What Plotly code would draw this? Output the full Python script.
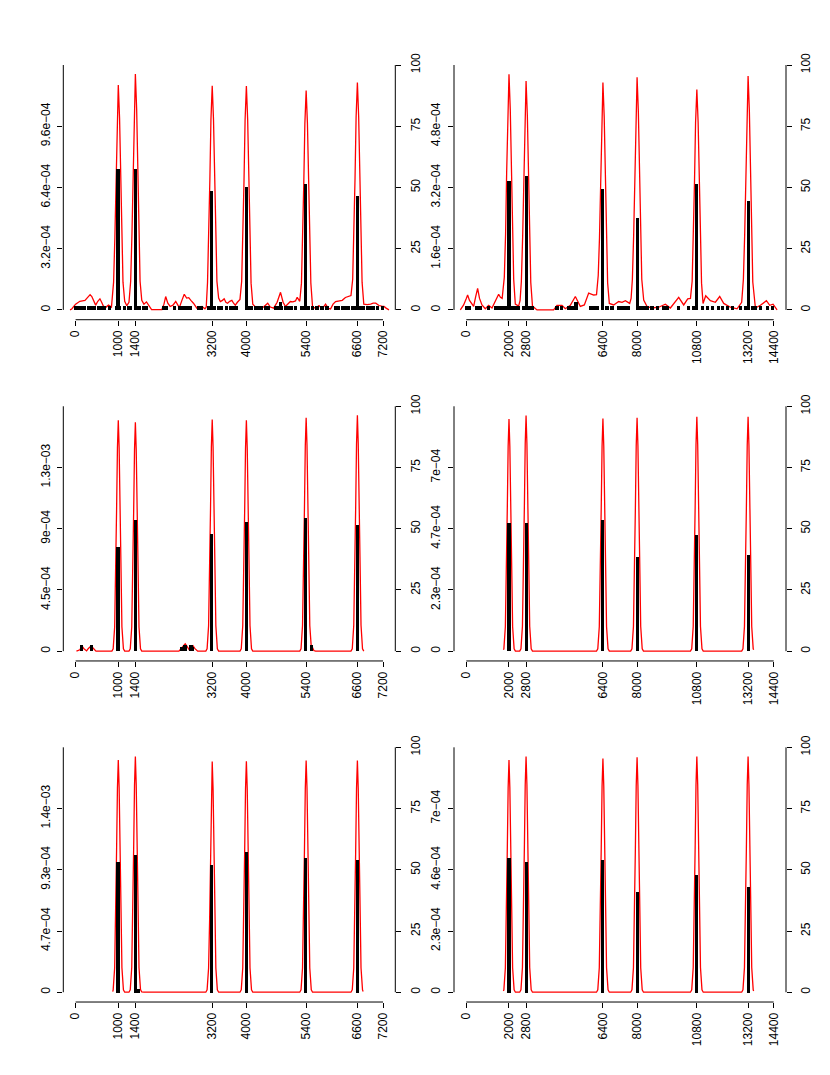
import plotly.graph_objects as go

# x-axis tick marks for the two columns
ticks_a = [0, 1000, 1400, 3200, 4000, 5400, 6600, 7200]
ticks_b = [0, 2000, 2800, 6400, 8000, 10800, 13200, 14400]
right_ticks = [0, 25, 50, 75, 100]

# top of the density axis (x 1e-4) and its labels
p1_top, p1_lab = 12.8, ["0", "3.2e\u221204", "6.4e\u221204", "9.6e\u221204"]
p2_top, p2_lab = 6.4, ["0", "1.6e\u221204", "3.2e\u221204", "4.8e\u221204"]
p3_top, p3_lab = 17.88, ["0", "4.5e\u221204", "9e\u221204", "1.3e\u221203"]
p4_top, p4_lab = 9.36, ["0", "2.3e\u221204", "4.7e\u221204", "7e\u221204"]
p5_top, p5_lab = 18.64, ["0", "4.7e\u221204", "9.3e\u221204", "1.4e\u221203"]
p6_top, p6_lab = 9.28, ["0", "2.3e\u221204", "4.6e\u221204", "7e\u221204"]

# red density curves: (x, density x 1e-4)
p1_curve = [
    (-130, 0), (-90, 0.05), (0, 0.3), (100, 0.45), (220, 0.5), (300, 0.72), (340, 0.8), (380, 0.7),
    (430, 0.4), (470, 0.25), (520, 0.45), (570, 0.58), (610, 0.4), (650, 0.2), (700, 0.12), (770, 0.25),
    (840, 0.15), (890, 1.45), (920, 3.8), (945, 6.85), (970, 10.0), (1000, 11.75), (1030, 10.0),
    (1055, 6.85), (1080, 3.8), (1110, 1.45), (1150, 0.45), (1200, 0.22), (1250, 0.4), (1290, 1.5),
    (1320, 3.95), (1345, 7.15), (1370, 10.5), (1400, 12.33), (1430, 10.5), (1455, 7.15), (1480, 3.95),
    (1510, 1.5), (1550, 0.5), (1600, 0.3), (1660, 0.42), (1720, 0.2), (1780, 0.02), (2020, 0.02),
    (2070, 0.3), (2110, 0.7), (2160, 0.35), (2215, 0.18), (2280, 0.25), (2345, 0.44), (2400, 0.2),
    (2430, 0.12), (2490, 0.5), (2545, 0.82), (2600, 0.62), (2650, 0.64), (2700, 0.5), (2760, 0.35),
    (2840, 0.09), (2900, 0.12), (2960, 0.18), (3030, 0.06), (3060, 0.15), (3090, 1.45), (3120, 3.75),
    (3145, 6.8), (3170, 9.95), (3200, 11.72), (3230, 9.95), (3255, 6.8), (3280, 3.75), (3310, 1.5),
    (3350, 0.62), (3390, 0.44), (3440, 0.5), (3480, 0.58), (3520, 0.4), (3560, 0.35), (3610, 0.45),
    (3660, 0.5), (3700, 0.35), (3740, 0.25), (3790, 0.4), (3850, 0.55), (3890, 1.5), (3920, 3.75),
    (3945, 6.8), (3970, 9.95), (4000, 11.7), (4030, 9.95), (4055, 6.8), (4080, 3.75), (4110, 1.4),
    (4150, 0.3), (4200, 0.18), (4290, 0.09), (4400, 0.15), (4500, 0.35), (4560, 0.15), (4640, 0.09),
    (4720, 0.4), (4800, 0.92), (4860, 0.4), (4915, 0.18), (4980, 0.35), (5030, 0.44), (5090, 0.42),
    (5150, 0.47), (5190, 0.66), (5250, 0.45), (5290, 1.4), (5320, 3.65), (5345, 6.65), (5370, 9.75),
    (5400, 11.46), (5430, 9.75), (5455, 6.65), (5480, 3.65), (5510, 1.4), (5550, 0.15), (5620, 0.09),
    (5700, 0.23), (5776, 0.05), (5854, 0.3), (5920, 0.08), (5971, 0.05), (6030, 0.3), (6090, 0.44),
    (6170, 0.48), (6245, 0.5), (6320, 0.65), (6400, 0.72), (6450, 0.75), (6490, 1.6), (6520, 3.8),
    (6545, 6.9), (6570, 10.1), (6600, 11.89), (6630, 10.1), (6655, 6.9), (6680, 3.8), (6710, 1.45),
    (6750, 0.3), (6830, 0.28), (6910, 0.3), (6970, 0.35), (7030, 0.35), (7106, 0.23), (7170, 0.2),
    (7223, 0.18), (7280, 0.08), (7340, 0),
]
p2_curve = [
    (-280, 0), (-125, 0.13), (0, 0.3), (62, 0.39), (150, 0.25), (266, 0.13), (344, 0.09), (440, 0.35),
    (531, 0.56), (620, 0.3), (734, 0.13), (890, 0.03), (1047, 0.12), (1203, 0.05), (1359, 0.22),
    (1515, 0.41), (1600, 0.33), (1680, 0.3), (1780, 0.85), (1840, 1.97), (1890, 3.57), (1940, 5.24),
    (2000, 6.16), (2060, 5.24), (2110, 3.57), (2160, 1.97), (2220, 0.8), (2296, 0.15), (2452, 0.1),
    (2520, 0.25), (2580, 0.75), (2640, 1.91), (2690, 3.47), (2740, 5.08), (2800, 5.98), (2860, 5.08),
    (2910, 3.47), (2960, 1.91), (3020, 0.72), (3100, 0.1), (3311, 0), (4092, 0), (4249, 0.12),
    (4483, 0.12), (4639, 0.03), (4873, 0.12), (5108, 0.35), (5342, 0.09), (5529, 0.13), (5733, 0.44),
    (5967, 0.39), (6100, 0.4), (6180, 0.9), (6240, 1.9), (6290, 3.45), (6340, 5.05), (6400, 5.94),
    (6460, 5.05), (6510, 3.45), (6560, 1.9), (6620, 0.71), (6700, 0.17), (6904, 0.13), (7138, 0.22),
    (7295, 0.2), (7451, 0.24), (7654, 0.17), (7720, 0.3), (7780, 0.8), (7840, 1.95), (7890, 3.53),
    (7940, 5.17), (8000, 6.08), (8060, 5.17), (8110, 3.53), (8160, 1.95), (8220, 0.8), (8310, 0.26),
    (8466, 0.09), (8700, 0.05), (9013, 0.07), (9325, 0.15), (9559, 0.05), (9950, 0.33), (10184, 0.13),
    (10372, 0.29), (10500, 0.3), (10580, 0.75), (10640, 1.84), (10690, 3.34), (10740, 4.9),
    (10800, 5.76), (10860, 4.9), (10910, 3.34), (10960, 1.84), (11020, 0.7), (11090, 0.17),
    (11215, 0.37), (11434, 0.24), (11668, 0.2), (11871, 0.35), (12058, 0.17), (12371, 0.07),
    (12683, 0.03), (12900, 0.2), (12980, 0.8), (13040, 1.96), (13090, 3.54), (13140, 5.19),
    (13200, 6.11), (13260, 5.19), (13310, 3.54), (13360, 1.96), (13420, 0.73), (13543, 0.05),
    (13777, 0.12), (14058, 0.24), (14214, 0.12), (14370, 0.15), (14558, 0),
]
p3_curve = [
    (20, 0), (100, 0.1), (130, 0.28), (157, 0.34), (190, 0.2), (258, 0.02), (300, 0.2), (340, 0.32),
    (376, 0.34), (410, 0.2), (477, 0), (850, 0), (880, 0.17), (915, 1.77), (940, 5.4), (960, 10.28),
    (980, 14.84), (1000, 16.86), (1020, 14.84), (1040, 10.28), (1060, 5.4), (1085, 1.77), (1120, 0.17),
    (1150, 0), (1250, 0), (1280, 0.17), (1315, 1.76), (1340, 5.35), (1360, 10.2), (1380, 14.71),
    (1400, 16.72), (1420, 14.71), (1440, 10.2), (1460, 5.35), (1485, 1.76), (1520, 0.17), (1550, 0),
    (2420, 0), (2480, 0.25), (2540, 0.5), (2567, 0.54), (2610, 0.35), (2661, 0.1), (2710, 0.35),
    (2747, 0.41), (2790, 0.2), (2860, 0), (3050, 0), (3080, 0.17), (3115, 1.86), (3140, 5.41),
    (3160, 10.32), (3180, 14.88), (3200, 16.91), (3220, 14.88), (3240, 10.32), (3260, 5.41),
    (3285, 1.86), (3320, 0.17), (3350, 0), (3850, 0), (3880, 0.17), (3915, 1.85), (3940, 5.4),
    (3960, 10.28), (3980, 14.84), (4000, 16.86), (4020, 14.84), (4040, 10.28), (4060, 5.4),
    (4085, 1.85), (4120, 0.17), (4150, 0), (5250, 0), (5280, 0.17), (5315, 1.87), (5340, 5.45),
    (5360, 10.39), (5380, 15.0), (5400, 17.04), (5420, 15.0), (5440, 10.39), (5460, 5.45),
    (5485, 1.87), (5520, 0.3), (5545, 0.3), (5580, 0.05), (5620, 0), (6450, 0), (6480, 0.17),
    (6515, 1.89), (6540, 5.51), (6560, 10.5), (6580, 15.15), (6600, 17.22), (6620, 15.15),
    (6640, 10.5), (6660, 5.51), (6685, 1.89), (6720, 0.17), (6750, 0),
]
p4_curve = [
    (1740, 0.05), (1760, 0.09), (1830, 0.93), (1880, 2.84), (1920, 5.41), (1960, 7.81), (2000, 8.87),
    (2040, 7.81), (2080, 5.41), (2120, 2.84), (2170, 0.93), (2240, 0.09), (2300, 0), (2500, 0),
    (2560, 0.09), (2630, 0.95), (2680, 2.88), (2720, 5.5), (2760, 7.93), (2800, 9.01), (2840, 7.93),
    (2880, 5.5), (2920, 2.88), (2970, 0.95), (3040, 0.09), (3100, 0), (6100, 0), (6160, 0.09),
    (6230, 0.93), (6280, 2.84), (6320, 5.42), (6360, 7.82), (6400, 8.89), (6440, 7.82), (6480, 5.42),
    (6520, 2.84), (6570, 0.93), (6640, 0.09), (6700, 0), (7700, 0), (7760, 0.09), (7830, 0.94),
    (7880, 2.85), (7920, 5.44), (7960, 7.85), (8000, 8.92), (8040, 7.85), (8080, 5.44), (8120, 2.85),
    (8170, 0.94), (8240, 0.09), (8300, 0), (10500, 0), (10560, 0.09), (10630, 0.94), (10680, 2.87),
    (10720, 5.47), (10760, 7.88), (10800, 8.96), (10840, 7.88), (10880, 5.47), (10920, 2.87),
    (10970, 0.94), (11040, 0.09), (11100, 0), (12900, 0), (12960, 0.09), (13030, 0.94), (13080, 2.87),
    (13120, 5.47), (13160, 7.88), (13200, 8.96), (13240, 7.88), (13280, 5.47), (13320, 2.87),
    (13370, 0.94), (13440, 0.09), (13460, 0.05),
]
p5_curve = [
    (870, 0.05), (880, 0.18), (915, 1.86), (940, 5.65), (960, 10.78), (980, 15.55), (1000, 17.67),
    (1020, 15.55), (1040, 10.78), (1060, 5.65), (1085, 1.86), (1120, 0.18), (1150, 0), (1250, 0),
    (1280, 0.18), (1315, 1.88), (1340, 5.74), (1360, 10.94), (1380, 15.78), (1400, 17.93),
    (1420, 15.78), (1440, 10.94), (1460, 5.74), (1485, 1.88), (1520, 0.2), (1550, 0.02), (1600, 0),
    (3050, 0), (3080, 0.18), (3115, 1.84), (3140, 5.62), (3160, 10.71), (3180, 15.45), (3200, 17.56),
    (3220, 15.45), (3240, 10.71), (3260, 5.62), (3285, 1.84), (3320, 0.18), (3350, 0), (3850, 0),
    (3880, 0.18), (3915, 1.85), (3940, 5.63), (3960, 10.72), (3980, 15.47), (4000, 17.58),
    (4020, 15.47), (4040, 10.72), (4060, 5.63), (4085, 1.85), (4120, 0.18), (4150, 0), (5250, 0),
    (5280, 0.18), (5315, 1.85), (5340, 5.64), (5360, 10.75), (5380, 15.51), (5400, 17.63),
    (5420, 15.51), (5440, 10.75), (5460, 5.64), (5485, 1.85), (5520, 0.18), (5550, 0), (6450, 0),
    (6480, 0.18), (6515, 1.85), (6540, 5.64), (6560, 10.75), (6580, 15.51), (6600, 17.63),
    (6620, 15.51), (6640, 10.75), (6660, 5.64), (6685, 1.85), (6720, 0.18), (6735, 0.05),
]
p6_curve = [
    (1740, 0.05), (1760, 0.09), (1830, 0.92), (1880, 2.82), (1920, 5.37), (1960, 7.74), (2000, 8.8),
    (2040, 7.74), (2080, 5.37), (2120, 2.82), (2170, 0.92), (2240, 0.09), (2300, 0), (2500, 0),
    (2560, 0.09), (2630, 0.94), (2680, 2.86), (2720, 5.45), (2760, 7.86), (2800, 8.93), (2840, 7.86),
    (2880, 5.45), (2920, 2.86), (2970, 0.94), (3040, 0.09), (3100, 0), (6100, 0), (6160, 0.09),
    (6230, 0.93), (6280, 2.84), (6320, 5.4), (6360, 7.8), (6400, 8.86), (6440, 7.8), (6480, 5.4),
    (6520, 2.84), (6570, 0.93), (6640, 0.09), (6700, 0), (7700, 0), (7760, 0.09), (7830, 0.93),
    (7880, 2.85), (7920, 5.43), (7960, 7.83), (8000, 8.9), (8040, 7.83), (8080, 5.43), (8120, 2.85),
    (8170, 0.93), (8240, 0.09), (8300, 0), (10500, 0), (10560, 0.09), (10630, 0.94), (10680, 2.86),
    (10720, 5.45), (10760, 7.86), (10800, 8.93), (10840, 7.86), (10880, 5.45), (10920, 2.86),
    (10970, 0.94), (11040, 0.09), (11100, 0), (12900, 0), (12960, 0.09), (13030, 0.94), (13080, 2.86),
    (13120, 5.45), (13160, 7.86), (13200, 8.93), (13240, 7.86), (13280, 5.45), (13320, 2.86),
    (13370, 0.94), (13440, 0.09), (13460, 0.05),
]

# black tallies (right axis, 0-100): main spikes
mid_a = [1000, 1400, 3200, 4000, 5400, 6600]
mid_b = [2000, 2800, 6400, 8000, 10800, 13200]
p1_spk = [57.4, 57.4, 48.3, 50.3, 51.3, 46.3]
p2_spk = [52.4, 54.4, 49.4, 37.4, 51.3, 44.2]
p3_spk = [42.3, 53.5, 47.5, 52.5, 54.3, 51.4]
p4_spk = [52.2, 52.2, 53.2, 38.3, 47.4, 39.2]
p5_spk = [53.2, 56.2, 52.1, 57.3, 55.2, 54.3]
p6_spk = [55.2, 53.2, 54.1, 41.2, 48.2, 43.3]

# small tallies along the baseline: (x, height)
p1_small = [
    (10, 1.5), (64, 1.5), (142, 1.5), (221, 1.5), (299, 1.5), (377, 1.5), (455, 1.5), (534, 1.5),
    (612, 1.5), (690, 1.5), (792, 1.5), (964, 1.5), (1043, 1.5), (1160, 1.5), (1254, 1.5), (1301, 1.5),
    (1473, 1.5), (1512, 1.5), (1590, 1.5), (1669, 1.5), (2060, 1.5), (2138, 1.5), (2334, 1.5),
    (2452, 1.5), (2530, 1.5), (2608, 1.5), (2686, 1.5), (2882, 1.5), (2960, 1.5), (3115, 1.5),
    (3271, 1.5), (3349, 1.5), (3428, 1.5), (3547, 1.5), (3625, 1.5), (3704, 1.5), (3782, 1.5),
    (4056, 1.5), (4134, 1.5), (4213, 1.5), (4291, 1.5), (4369, 1.5), (4447, 1.5), (4526, 1.5),
    (4682, 1.5), (4760, 1.5), (4800, 3), (4839, 1.5), (4917, 1.5), (4995, 1.5), (5074, 1.5),
    (5152, 1.5), (5309, 1.5), (5465, 1.5), (5559, 1.5), (5661, 1.5), (5778, 1.5), (5896, 1.5),
    (6091, 1.5), (6170, 1.5), (6248, 1.5), (6326, 1.5), (6404, 1.5), (6483, 1.5), (6561, 1.5),
    (6678, 1.5), (6757, 1.5), (6835, 1.5), (6914, 1.5), (6992, 1.5), (7070, 1.5), (7188, 1.5),
]
p2_small = [
    (0, 1.5), (156, 1.5), (500, 1.5), (656, 1.5), (1047, 1.5), (1359, 1.5), (1515, 1.5), (1671, 1.5),
    (1828, 1.5), (2140, 1.5), (2296, 1.5), (2452, 1.5), (2687, 1.5), (2921, 1.5), (3077, 1.5),
    (4249, 1.5), (4452, 1.5), (4795, 1.5), (4952, 1.5), (5139, 3), (5811, 1.5), (5967, 1.5),
    (6123, 1.5), (6592, 1.5), (6826, 1.5), (7138, 1.5), (7295, 1.5), (7451, 1.5), (7607, 1.5),
    (8154, 1.5), (8310, 1.5), (8466, 1.5), (8700, 1.5), (8935, 1.5), (9247, 1.5), (9403, 1.5),
    (9950, 1.5), (10419, 1.5), (10650, 1.5), (11043, 1.5), (11277, 1.5), (11512, 1.5), (11824, 1.5),
    (11980, 1.5), (12215, 1.5), (12449, 1.5), (12840, 1.5), (13074, 1.5), (13386, 1.5), (13543, 1.5),
    (13777, 1.5), (14089, 1.5), (14323, 1.5),
]
p3_small = [(150, 2.5), (380, 2.5), (2490, 1.5), (2570, 2.5), (2710, 2.5), (2750, 1.5), (5540, 2.5)]
p4_small = []
p5_small = [(1490, 1.5)]
p6_small = []

panels = [
    (p1_curve, p1_spk, p1_small, p1_top, p1_lab),
    (p2_curve, p2_spk, p2_small, p2_top, p2_lab),
    (p3_curve, p3_spk, p3_small, p3_top, p3_lab),
    (p4_curve, p4_spk, p4_small, p4_top, p4_lab),
    (p5_curve, p5_spk, p5_small, p5_top, p5_lab),
    (p6_curve, p6_spk, p6_small, p6_top, p6_lab),
]

# page is 830x1075, the html body adds an 8px margin
PAD = 8
W, H = 830 - 2 * PAD, 1075 - 2 * PAD
col_lr = [(63.3, 395.3), (454.0, 786.0)]
row_tb = [(53.3, 318.3), (395.2, 660.2), (736.9, 1001.9)]
font = dict(family="Liberation Sans, Arial, Helvetica, sans-serif", size=12, color="black")
axis_common = dict(showgrid=False, zeroline=False, showline=False, ticks="outside",
                   ticklen=5, tickwidth=1, tickcolor="black", tickfont=font, tickangle=-90)


def px(v):
    return (v - PAD) / W


def py(v):
    return 1 - (v - PAD) / H


fig = go.Figure()
layout = {}
shapes = []
for i, (curve, spk, small, top, lab) in enumerate(panels):
    r, c = divmod(i, 2)
    L, R = col_lr[c]
    T, B = row_tb[r]
    xmax = 7200 if c == 0 else 14400
    xt = ticks_a if c == 0 else ticks_b
    mids = mid_a if c == 0 else mid_b
    bw = 72 if c == 0 else 144
    n, m = i + 1, i + 7
    xa = "x" if n == 1 else f"x{n}"
    ya = "y" if n == 1 else f"y{n}"
    yb = f"y{m}"
    top_d = top * 1e-4

    cx = [p[0] for p in curve]
    cy = [p[1] * 1e-4 for p in curve]
    fig.add_trace(go.Scatter(x=cx, y=cy, mode="lines", line=dict(color="#ff0000", width=1.3),
                             xaxis=xa, yaxis=ya, hoverinfo="skip"))
    bx = mids + [s[0] for s in small]
    by = spk + [s[1] for s in small]
    fig.add_trace(go.Bar(x=bx, y=by, width=bw, marker=dict(color="black", line=dict(width=0)),
                         xaxis=xa, yaxis=yb, hoverinfo="skip"))

    layout["xaxis" if n == 1 else f"xaxis{n}"] = dict(
        axis_common, domain=[px(L), px(R)], range=[-0.04 * xmax, 1.04 * xmax], anchor=ya,
        tickmode="array", tickvals=xt, ticktext=[str(v) for v in xt])
    layout["yaxis" if n == 1 else f"yaxis{n}"] = dict(
        axis_common, domain=[py(B), py(T)], range=[-0.04 * top_d, 1.04 * top_d], anchor=xa,
        tickmode="array", tickvals=[0, top_d / 4, top_d / 2, 3 * top_d / 4], ticktext=lab,
        ticklabelstandoff=3)
    layout[f"yaxis{m}"] = dict(
        axis_common, overlaying=ya, side="right", anchor=xa, range=[-4, 104],
        tickmode="array", tickvals=right_ticks, ticktext=[str(v) for v in right_ticks],
        ticklabelstandoff=4)

    # R-style axis lines that stop at the end ticks
    ln = dict(color="black", width=1)
    shapes.append(dict(type="line", xref=xa, yref="paper", x0=0, x1=xmax,
                       y0=py(B), y1=py(B), line=ln))
    shapes.append(dict(type="line", xref="paper", yref=ya, x0=px(L), x1=px(L),
                       y0=0, y1=top_d, line=ln))
    shapes.append(dict(type="line", xref="paper", yref=yb, x0=px(R), x1=px(R),
                       y0=0, y1=100, line=ln))

fig.update_layout(**layout)
fig.update_layout(width=W, height=H, margin=dict(l=0, r=0, t=0, b=0), showlegend=False,
                  plot_bgcolor="white", paper_bgcolor="white", shapes=shapes, font=font,
                  bargap=0)
fig.write_html("out.html")
